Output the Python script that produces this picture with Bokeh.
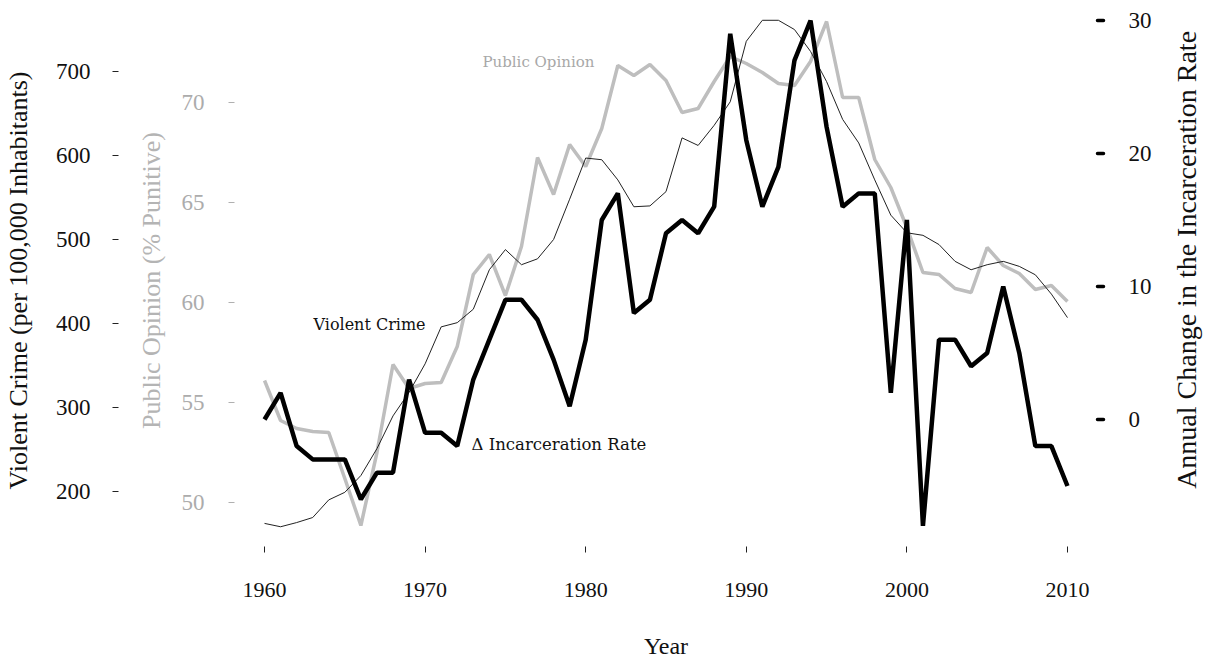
import math
from bokeh.plotting import figure
from bokeh.layouts import row
from bokeh.models import Range1d, LinearAxis, FixedTicker, Label
from bokeh.embed import file_html
from bokeh.resources import INLINE

years = list(range(1960, 2011))

violent_crime = [162, 158, 163, 169, 190, 199, 219, 251, 290, 318,
                 352, 396, 401, 417, 464, 488, 470, 477, 500, 548,
                 597, 595, 571, 539, 540, 557, 621, 612, 636, 664,
                 736, 761, 761, 750, 724, 688, 643, 615, 571, 529,
                 508, 505, 494, 474, 464, 470, 474, 468, 458, 435, 407]

public_opinion = [56.1, 54.1, 53.7, 53.55, 53.5, 51.2, 48.85, 52.5, 56.9, 55.7,
                  55.95, 56.0, 57.8, 61.4, 62.4, 60.35, 62.8, 67.25, 65.4, 67.9,
                  66.8, 68.7, 71.85, 71.35, 71.9, 71.1, 69.5, 69.7, 71.05, 72.3,
                  71.95, 71.5, 70.95, 70.85, 72.05, 74.05, 70.25, 70.25, 67.15, 65.75,
                  63.75, 61.5, 61.4, 60.7, 60.5, 62.75, 61.85, 61.45, 60.65, 60.85, 60.05]

incarceration_change = [0, 2, -2, -3, -3, -3, -6, -4, -4, 3,
                         -1, -1, -2, 3, 6, 9, 9, 7.5, 4.5, 1,
                         6, 15, 17, 8, 9, 14, 15, 14, 16, 29,
                         21, 16, 19, 27, 30, 22, 16, 17, 17, 2,
                         15, -8, 6, 6, 4, 5, 10, 5, -2, -2, -5]

year_ticks = [1960, 1970, 1980, 1990, 2000, 2010]
crime_ticks = [200, 300, 400, 500, 600, 700]
opinion_ticks = [50, 55, 60, 65, 70]
incarc_ticks = [0, 10, 20, 30]

SERIF = "Liberation Serif"
LABEL_FONT = "DejaVu Serif"
GRAY_LINE = "#bebebe"
GRAY_TEXT = "#acacac"

INCARC_RANGE = (-9.55, 30.45)

p = figure(frame_width=863, frame_height=532,
           x_range=Range1d(1958.13, 2011.87),
           y_range=Range1d(47.8, 74.4),
           output_backend="svg", toolbar_location=None,
           min_border_left=233, min_border_right=66,
           min_border_top=14, min_border_bottom=100)
p.extra_y_ranges = {"crime": Range1d(134.5, 767.9),
                    "incarc": Range1d(*INCARC_RANGE)}
p.outline_line_color = None
p.xgrid.visible = False
p.ygrid.visible = False
p.background_fill_color = "white"
p.border_fill_color = "white"

def style(ax, text_color, tick_color, tick_width, tin, tout, lab_size, lab_standoff,
          title, title_size, title_standoff, title_color):
    ax.axis_line_color = None
    ax.minor_tick_line_color = None
    ax.major_tick_in = tin
    ax.major_tick_out = tout
    ax.major_tick_line_color = tick_color
    ax.major_tick_line_width = tick_width
    ax.major_label_text_font = SERIF
    ax.major_label_text_font_size = f"{lab_size}px"
    ax.major_label_text_color = text_color
    ax.major_label_standoff = lab_standoff
    ax.axis_label = title
    ax.axis_label_text_font = SERIF
    ax.axis_label_text_font_style = "normal"
    ax.axis_label_text_font_size = f"{title_size}px"
    ax.axis_label_text_color = title_color
    ax.axis_label_standoff = title_standoff

# x axis
xa = p.xaxis[0]
xa.ticker = FixedTicker(ticks=year_ticks)
style(xa, "#111111", "#222222", 1, 0, 6, 22, 30, "Year", 24, 33, "#111111")

# inner left axis: public opinion
ya = p.yaxis[0]
ya.ticker = FixedTicker(ticks=opinion_ticks)
style(ya, GRAY_TEXT, "#b0b0b0", 1, 0, 6, 23, 24, "Public Opinion (% Punitive)", 26, 13, "#b4b4b4")

# outer left axis: violent crime
ca = LinearAxis(y_range_name="crime", ticker=FixedTicker(ticks=crime_ticks))
style(ca, "#111111", "#222222", 1, -15, 21, 23, 22, "Violent Crime (per 100,000 Inhabitants)", 26, 20, "#111111")
p.add_layout(ca, "left")

# right axis: incarceration change (its title is drawn in the strip to the right)
ra = LinearAxis(y_range_name="incarc", ticker=FixedTicker(ticks=incarc_ticks))
style(ra, "#111111", "#000000", 3.5, 0, 6, 23, 25, "", 26, 0, "#111111")
ra.major_tick_line_cap = "round"
ra.major_label_text_align = "left"
p.add_layout(ra, "right")

p.line(years, public_opinion, line_color=GRAY_LINE, line_width=3.5)
p.line(years, violent_crime, y_range_name="crime", line_color="#222222", line_width=1)
p.line(years, incarceration_change, y_range_name="incarc", line_color="#000000", line_width=4.5)

p.add_layout(Label(x=1973.57, y=72.05, text="Public Opinion", text_font=LABEL_FONT,
                   text_font_size="15px", text_color="#a8a8a8",
                   text_baseline="middle", text_align="left"))
p.add_layout(Label(x=1963.05, y=398.8, y_range_name="crime", text="Violent Crime",
                   text_font=LABEL_FONT, text_font_size="16px", text_color="#111111",
                   text_baseline="middle", text_align="left"))
p.add_layout(Label(x=1972.89, y=-1.88, y_range_name="incarc", text="\u0394 Incarceration Rate",
                   text_font=LABEL_FONT, text_font_size="16.5px", text_color="#111111",
                   text_baseline="middle", text_align="left"))

# narrow strip holding the right-hand axis title, read bottom-to-top
p2 = figure(frame_width=40, frame_height=532,
            x_range=Range1d(0, 1), y_range=Range1d(*INCARC_RANGE),
            x_axis_location=None, y_axis_location=None,
            output_backend="svg", toolbar_location=None,
            min_border_left=0, min_border_right=0,
            min_border_top=14, min_border_bottom=0)
p2.outline_line_color = None
p2.xgrid.visible = False
p2.ygrid.visible = False
p2.add_layout(Label(x=0.575, y=12.0,
                    text="Annual Change in the Incarceration Rate",
                    text_font=SERIF, text_font_size="28px", text_color="#111111",
                    angle=math.pi / 2, text_baseline="middle", text_align="center"))

layout = row(p, p2, spacing=0)
open("out.html", "w").write(file_html(layout, INLINE))
